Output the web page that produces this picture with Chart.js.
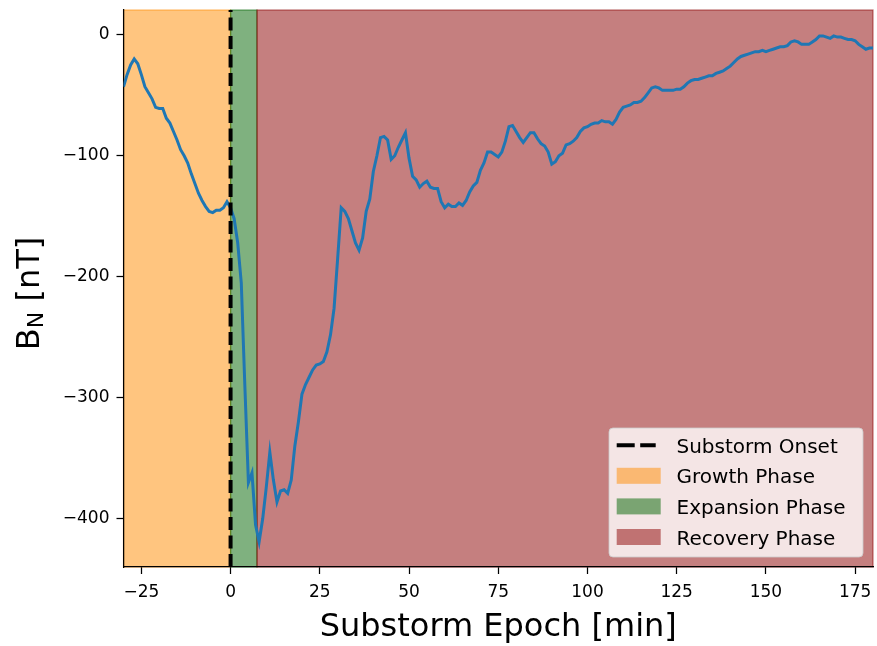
<!DOCTYPE html>
<html><head><meta charset="utf-8">
<script src="https://cdn.jsdelivr.net/npm/chart.js@4.4.1/dist/chart.umd.min.js"></script>
<style>html,body{margin:0;padding:0;background:#fff;}#wrap{width:877px;height:646px;position:relative;}</style>
</head><body><div id="wrap"><canvas id="c" width="877" height="646"></canvas></div>
<script>
// ---------- data ----------
const epochMinutes = [
 -30,-29,-28,-27,-26,-25,-24,-23,-22,-21,-20,-19,-18,-17,-16,-15,-14,-13,-12,-11,
 -10,-9,-8,-7,-6,-5,-4,-3,-2,-1,
 0,1,2,3,4,5,6,7,8,9,10,11,12,13,14,15,16,17,18,19,
 20,21,22,23,24,25,26,27,28,29,30,31,32,33,34,35,36,37,38,39,
 40,41,42,43,44,45,46,47,48,49,50,51,52,53,54,55,56,57,58,59,
 60,61,62,63,64,65,66,67,68,69,70,71,72,73,74,75,76,77,78,79,
 80,81,82,83,84,85,86,87,88,89,90,91,92,93,94,95,96,97,98,99,
 100,101,102,103,104,105,106,107,108,109,110,111,112,113,114,115,116,117,118,119,
 120,121,122,123,124,125,126,127,128,129,130,131,132,133,134,135,136,137,138,139,
 140,141,142,143,144,145,146,147,148,149,150,151,152,153,154,155,156,157,158,159,
 160,161,162,163,164,165,166,167,168,169,170,171,172,173,174,175,176,177,178,179,180
];
const bnValues = [
 -43,-33,-25,-20,-24,-33,-43,-48,-53,-60,-61,-61,-69,-73,-80,-87,-95,-100,-106,-115,
 -123,-131,-137,-142,-146,-147,-145,-145,-143,-138,
 -143,-152,-172,-205,-290,-370,-362,-405,-419,-400,-374,-345,-368,-386,-377,-376,-379,-368,-340,-320,
 -297,-289,-283,-277,-273,-272,-270,-262,-248,-226,-185,-143,-146,-152,-162,-172,-178,-168,-146,-136,
 -113,-100,-85,-84,-87,-103,-100,-93,-87,-81,-102,-117,-120,-126,-123,-121,-126,-127,-127,-138,
 -143,-140,-142,-142,-139,-141,-137,-130,-125,-122,-112,-106,-97,-97,-99,-101,-97,-88,-76,-75,
 -80,-85,-89,-85,-81,-81,-86,-90,-92,-97,-107,-105,-100,-98,-91,-90,-88,-85,-80,-77,
 -76,-74,-73,-73,-71,-72,-72,-74,-70,-64,-60,-59,-58,-56,-56,-55,-52,-48,-44,-43,
 -44,-46,-46,-46,-46,-45,-45,-43,-40,-38,-37,-37,-36,-35,-34,-34,-32,-31,-30,-28,
 -26,-23,-20,-18,-17,-16,-15,-14,-14,-13,-14,-13,-12,-11,-10,-10,-9,-6,-5,-6,
 -8,-8,-8,-6,-4,-1,-1,-2,-3,-1,-2,-2,-3,-4,-4,-5,-8,-10,-12,-11,-11
];
const xTickValues = [-25, 0, 25, 50, 75, 100, 125, 150, 175];
const yTickValues = [0, -100, -200, -300, -400];
const phaseBounds = [-30, 0, 7.4, 180];
const phaseColors = ['rgba(255,140,0,0.5)', 'rgba(0,100,0,0.5)', 'rgba(139,0,0,0.5)'];
const onsetEpoch = 0;
const legendLabels = ['Substorm Onset', 'Growth Phase', 'Expansion Phase', 'Recovery Phase'];
const xAxisTitle = 'Substorm Epoch [min]';
const yAxisTitleParts = ['B', 'N', ' [nT]'];

// ---------- chart ----------
const FONT = "'DejaVu Sans', sans-serif";
Chart.defaults.font.family = FONT;

const points = epochMinutes.map((m, i) => ({x: m, y: bnValues[i]}));
const fmt = v => (v < 0 ? '\u2212' + Math.abs(v) : String(v));

const decor = {
  id: 'decor',
  beforeDraw(chart) {
    const {ctx, chartArea: a, scales: {x}} = chart;
    ctx.save();
    ctx.fillStyle = '#fff';
    ctx.fillRect(0, 0, chart.width, chart.height);
    for (let i = 0; i < phaseColors.length; i++) {
      const x0 = x.getPixelForValue(phaseBounds[i]);
      const x1 = x.getPixelForValue(phaseBounds[i + 1]);
      ctx.fillStyle = phaseColors[i];
      ctx.fillRect(x0, a.top, x1 - x0, a.bottom - a.top);
      ctx.strokeStyle = phaseColors[i];
      ctx.lineWidth = 1.3;
      ctx.strokeRect(x0, a.top, x1 - x0, a.bottom - a.top);
    }
    ctx.restore();
  },
  afterDatasetsDraw(chart) {
    const {ctx, chartArea: a, scales: {x}} = chart;
    const px = x.getPixelForValue(onsetEpoch);
    ctx.save();
    ctx.strokeStyle = '#000';
    ctx.lineWidth = 4;
    ctx.setLineDash([13, 5.5]);
    ctx.beginPath();
    ctx.moveTo(px, a.bottom);
    ctx.lineTo(px, a.top);
    ctx.stroke();
    ctx.restore();
  },
  afterDraw(chart) {
    const {ctx, chartArea: a} = chart;
    ctx.save();
    // legend box
    const bx = 609, by = 428, bw = 254, bh = 129, r = 4;
    ctx.beginPath();
    ctx.moveTo(bx + r, by);
    ctx.arcTo(bx + bw, by, bx + bw, by + bh, r);
    ctx.arcTo(bx + bw, by + bh, bx, by + bh, r);
    ctx.arcTo(bx, by + bh, bx, by, r);
    ctx.arcTo(bx, by, bx + bw, by, r);
    ctx.closePath();
    ctx.fillStyle = 'rgba(255,255,255,0.8)';
    ctx.fill();
    ctx.strokeStyle = 'rgba(204,204,204,0.8)';
    ctx.lineWidth = 1;
    ctx.stroke();
    const hx = 616.7, hw = 44, tx = 676.5;
    ctx.font = '20px ' + FONT;
    ctx.textBaseline = 'alphabetic';
    ctx.textAlign = 'left';
    for (let i = 0; i < legendLabels.length; i++) {
      const base = 452.7 + i * 30.6;
      const mid = base - 7.5;
      if (i === 0) {
        ctx.save();
        ctx.strokeStyle = '#000';
        ctx.lineWidth = 4;
        ctx.setLineDash([18, 5.5]);
        ctx.beginPath();
        ctx.moveTo(hx, mid);
        ctx.lineTo(hx + hw - 5, mid);
        ctx.stroke();
        ctx.restore();
      } else {
        ctx.fillStyle = phaseColors[i - 1];
        ctx.fillRect(hx, mid - 8, hw, 16);
      }
      ctx.fillStyle = '#000';
      ctx.fillText(legendLabels[i], tx, base);
    }
    // x axis title
    ctx.font = '32px ' + FONT;
    ctx.textAlign = 'center';
    ctx.textBaseline = 'alphabetic';
    ctx.fillStyle = '#000';
    ctx.fillText(xAxisTitle, (a.left + a.right) / 2, 636);
    // y axis title with subscript
    const big = '32px ' + FONT, small = '22px ' + FONT;
    ctx.font = big; const w0 = ctx.measureText(yAxisTitleParts[0]).width;
    ctx.font = small; const w1 = ctx.measureText(yAxisTitleParts[1]).width;
    ctx.font = big; const w2 = ctx.measureText(yAxisTitleParts[2]).width;
    const total = w0 + w1 + w2;
    ctx.translate(38.5, 293.5);
    ctx.rotate(-Math.PI / 2);
    ctx.textAlign = 'left';
    let cx = -total / 2;
    ctx.font = big; ctx.fillText(yAxisTitleParts[0], cx, 0); cx += w0;
    ctx.font = small; ctx.fillText(yAxisTitleParts[1], cx, 4); cx += w1;
    ctx.font = big; ctx.fillText(yAxisTitleParts[2], cx, 0);
    ctx.restore();
  }
};

new Chart(document.getElementById('c'), {
  type: 'line',
  data: {
    datasets: [{
      data: points,
      borderColor: '#1f77b4',
      borderWidth: 3,
      pointRadius: 0,
      tension: 0,
      fill: false
    }]
  },
  options: {
    responsive: false,
    animation: false,
    devicePixelRatio: 1,
    layout: {padding: {left: 0, top: 10, right: 4, bottom: 0}},
    plugins: {legend: {display: false}, tooltip: {enabled: false}},
    scales: {
      x: {
        type: 'linear', min: -30, max: 180,
        afterBuildTicks: s => { s.ticks = xTickValues.map(v => ({value: v})); },
        afterFit: s => { s.height = 79; s.paddingLeft = 0; s.paddingRight = 0; },
        ticks: {font: {size: 17}, color: '#000', padding: 8, maxRotation: 0, autoSkip: false, callback: v => fmt(v)},
        grid: {display: true, drawOnChartArea: false, drawTicks: true, tickLength: 7, tickWidth: 1.25, tickColor: '#000'},
        border: {display: true, color: '#000', width: 1.25}
      },
      y: {
        type: 'linear', min: -439.8, max: 20.4,
        afterBuildTicks: s => { s.ticks = yTickValues.map(v => ({value: v})); },
        afterFit: s => { s.width = 123.5; s.paddingTop = 0; s.paddingBottom = 0; },
        ticks: {font: {size: 17}, color: '#000', padding: 7, autoSkip: false, callback: v => fmt(v)},
        grid: {display: true, drawOnChartArea: false, drawTicks: true, tickLength: 7, tickWidth: 1.25, tickColor: '#000'},
        border: {display: true, color: '#000', width: 1.25}
      }
    }
  },
  plugins: [decor]
});
</script></body></html>
